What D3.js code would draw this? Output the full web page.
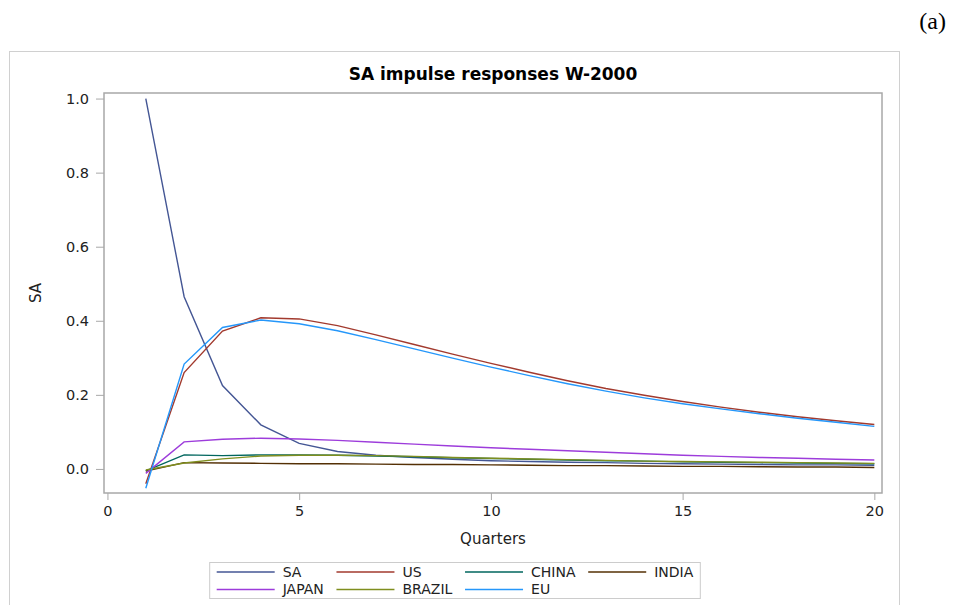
<!DOCTYPE html>
<html>
<head>
<meta charset="utf-8">
<script src="https://cdn.jsdelivr.net/npm/d3@7"></script>
<style>
  body { margin: 0; background: #fff; }
  text { font-family: "DejaVu Sans", sans-serif; fill: #222; }
</style>
</head>
<body>
<div id="chart"></div>
<script>
// Quarters 1..20
const quarters = d3.range(1, 21);

// Impulse responses
const seriesNames = ["SA", "US", "CHINA", "INDIA", "JAPAN", "BRAZIL", "EU"];
const saVals = [1.0, 0.465, 0.225, 0.119, 0.069, 0.047, 0.037, 0.031, 0.026, 0.022, 0.020, 0.018, 0.017, 0.015, 0.014, 0.013, 0.012, 0.011, 0.011, 0.010];
const usVals = [-0.04, 0.26, 0.372, 0.408, 0.405, 0.387, 0.362, 0.336, 0.310, 0.285, 0.261, 0.238, 0.217, 0.199, 0.182, 0.167, 0.153, 0.141, 0.130, 0.120];
const chinaVals = [-0.005, 0.038, 0.036, 0.038, 0.038, 0.037, 0.035, 0.033, 0.030, 0.028, 0.026, 0.024, 0.022, 0.021, 0.019, 0.018, 0.017, 0.016, 0.015, 0.014];
const indiaVals = [-0.006, 0.017, 0.016, 0.015, 0.014, 0.014, 0.013, 0.012, 0.012, 0.011, 0.010, 0.009, 0.009, 0.008, 0.007, 0.007, 0.006, 0.005, 0.005, 0.004];
const japanVals = [-0.012, 0.073, 0.080, 0.083, 0.081, 0.077, 0.072, 0.067, 0.062, 0.057, 0.053, 0.049, 0.045, 0.041, 0.037, 0.034, 0.031, 0.029, 0.026, 0.024];
const brazilVals = [-0.003, 0.016, 0.027, 0.035, 0.037, 0.037, 0.036, 0.034, 0.031, 0.029, 0.027, 0.025, 0.023, 0.021, 0.020, 0.019, 0.018, 0.017, 0.016, 0.015];
const euVals = [-0.052, 0.283, 0.382, 0.402, 0.392, 0.373, 0.349, 0.324, 0.299, 0.275, 0.252, 0.230, 0.210, 0.192, 0.176, 0.162, 0.149, 0.137, 0.126, 0.115];
const allVals = [saVals, usVals, chinaVals, indiaVals, japanVals, brazilVals, euVals];

const xTicks = [0, 5, 10, 15, 20];
const yTicks = [0.0, 0.2, 0.4, 0.6, 0.8, 1.0];

// SAS HTMLBlue style line colours
const colors = ["#445694", "#A23A2E", "#01665E", "#543005", "#9D3CDB", "#7F8E1F", "#2597FA"];

const W = 955, H = 605;
const plot = {left: 104, top: 93, right: 882, bottom: 493};

const svg = d3.select("#chart").append("svg")
  .attr("width", W)
  .attr("height", H);

// outer graph frame
svg.append("rect")
  .attr("x", 9.5).attr("y", 51.5)
  .attr("width", 890).attr("height", 600)
  .attr("fill", "none").attr("stroke", "#d0d0d0");

svg.append("text")
  .attr("x", 946).attr("y", 29)
  .attr("text-anchor", "end")
  .style("font-family", "'Liberation Serif', serif")
  .style("font-size", "24px")
  .style("fill", "#000")
  .text("(a)");

const x = d3.scaleLinear().domain([-0.09, 20.2]).range([plot.left, plot.right]);
const y = d3.scaleLinear().domain([-0.065, 1.015]).range([plot.bottom, plot.top]);

// plot wall
svg.append("rect")
  .attr("x", plot.left).attr("y", plot.top)
  .attr("width", plot.right - plot.left).attr("height", plot.bottom - plot.top)
  .attr("fill", "none").attr("stroke", "#a8a8a8").attr("stroke-width", 1.5);

// title
svg.append("text")
  .attr("x", (plot.left + plot.right) / 2).attr("y", 80)
  .attr("text-anchor", "middle")
  .style("font-size", "17px").style("font-weight", "bold")
  .style("fill", "#000")
  .text("SA impulse responses W-2000");

// axes
const xAxis = svg.append("g")
  .attr("transform", `translate(0,${plot.bottom})`)
  .call(d3.axisBottom(x).tickValues(xTicks).tickFormat(d3.format("d")).tickSize(7).tickPadding(6));
const yAxis = svg.append("g")
  .attr("transform", `translate(${plot.left},0)`)
  .call(d3.axisLeft(y).tickValues(yTicks).tickFormat(d3.format(".1f")).tickSize(8).tickPadding(7));
[xAxis, yAxis].forEach(g => {
  g.select(".domain").remove();
  g.selectAll(".tick line").attr("stroke", "#a8a8a8");
  g.selectAll(".tick text").style("font-size", "14.5px").style("font-family", "'DejaVu Sans', sans-serif").attr("fill", "#222");
});

svg.append("text")
  .attr("x", (plot.left + plot.right) / 2).attr("y", 544)
  .attr("text-anchor", "middle")
  .style("font-size", "15px")
  .text("Quarters");

svg.append("text")
  .attr("transform", `translate(41,${(plot.top + plot.bottom) / 2}) rotate(-90)`)
  .attr("text-anchor", "middle")
  .style("font-size", "15px")
  .text("SA");

// lines
const line = d3.line()
  .x((d, i) => x(quarters[i]))
  .y(d => y(d));

svg.append("g").selectAll("path")
  .data(allVals)
  .join("path")
  .attr("d", line)
  .attr("fill", "none")
  .attr("stroke", (d, i) => colors[i])
  .attr("stroke-width", 1.4);

// legend
const legend = svg.append("g");
const legendItems = legend.selectAll("g")
  .data(seriesNames)
  .join("g");
legendItems.append("line")
  .attr("x1", 0).attr("x2", 58)
  .attr("stroke", (d, i) => colors[i])
  .attr("stroke-width", 1.4);
legendItems.append("text")
  .attr("x", 66).attr("dy", "0.35em")
  .style("font-size", "14px")
  .text(d => d);

const nCols = 4;
const colW = [];
legendItems.each(function(d, i) {
  const w = d3.select(this).select("text").node().getComputedTextLength();
  const c = i % nCols;
  colW[c] = Math.max(colW[c] || 0, w);
});
const colX = [0];
for (let c = 1; c < nCols; c++) colX[c] = colX[c - 1] + 66 + colW[c - 1] + 12.7;
const legendW = colX[nCols - 1] + 66 + colW[nCols - 1];
const legendLeft = (10 + 900) / 2 - legendW / 2;
legendItems.attr("transform", (d, i) =>
  `translate(${legendLeft + colX[i % nCols]},${i < nCols ? 572 : 589.5})`);

legend.insert("rect", ":first-child")
  .attr("x", legendLeft - 7).attr("y", 562.5)
  .attr("width", legendW + 14).attr("height", 36)
  .attr("fill", "#fff").attr("stroke", "#cccccc");
</script>
</body>
</html>
